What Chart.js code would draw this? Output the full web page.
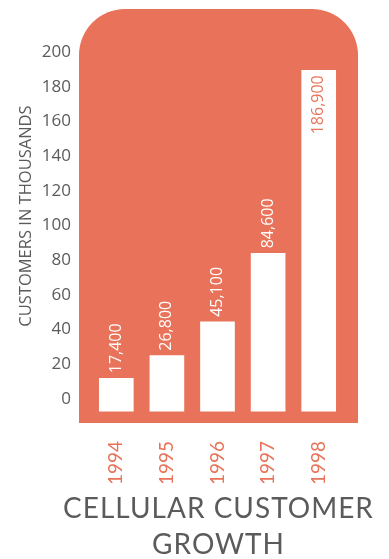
<!DOCTYPE html>
<html>
<head>
<meta charset="utf-8">
<script src="https://cdn.jsdelivr.net/npm/chart.js@4"></script>
<style>
  html, body { margin: 0; padding: 0; background: #fff; }
  #wrap { width: 389px; height: 559px; }
</style>
</head>
<body>
<div id="wrap"><canvas id="growthChart"></canvas></div>
<script>
const years = ['1994', '1995', '1996', '1997', '1998'];
// bar tops as drawn (thousands) and the printed labels
const barTops = [12, 25, 44.5, 84, 189.5];
const barBase = -7;
const valueLabels = ['17,400', '26,800', '45,100', '84,600', '186,900'];
const yTicks = [0, 20, 40, 60, 80, 100, 120, 140, 160, 180, 200];
const titleLines = ['CELLULAR CUSTOMER', 'GROWTH'];

const orange = '#e8735a';
const grey = '#5b5b5b';

// rounded orange panel behind the bars
const panelPlugin = {
  id: 'panel',
  beforeDraw(chart) {
    const { ctx, chartArea: a } = chart;
    const l = a.left - 12, r = a.right + 14, t = a.top, b = a.bottom, rad = 46;
    ctx.save();
    ctx.fillStyle = orange;
    ctx.beginPath();
    ctx.moveTo(l, b);
    ctx.lineTo(l, t + rad);
    ctx.arcTo(l, t, l + rad, t, rad);
    ctx.lineTo(r - rad, t);
    ctx.arcTo(r, t, r, t + rad, rad);
    ctx.lineTo(r, b);
    ctx.closePath();
    ctx.fill();
    ctx.restore();
  }
};

// rotated value labels on each bar
const valuePlugin = {
  id: 'values',
  afterDatasetsDraw(chart) {
    const { ctx } = chart;
    const meta = chart.getDatasetMeta(0);
    ctx.save();
    ctx.font = '16px "Open Sans"';
    ctx.textBaseline = 'middle';
    meta.data.forEach((bar, i) => {
      ctx.save();
      ctx.translate(bar.x, bar.y);
      ctx.rotate(-Math.PI / 2);
      if (i === meta.data.length - 1) {
        ctx.fillStyle = orange;
        ctx.textAlign = 'right';
        ctx.fillText(valueLabels[i], -5, 0);
      } else {
        ctx.fillStyle = '#fff';
        ctx.textAlign = 'left';
        ctx.fillText(valueLabels[i], 5, 0);
      }
      ctx.restore();
    });
    ctx.restore();
  }
};

// big title under the chart
const titlePlugin = {
  id: 'bigTitle',
  afterDraw(chart) {
    const { ctx, chartArea: a } = chart;
    const cx = (a.left + a.right) / 2;
    ctx.save();
    ctx.fillStyle = grey;
    ctx.font = '28px Lato';
    ctx.letterSpacing = '1px';
    ctx.textAlign = 'center';
    ctx.textBaseline = 'middle';
    ctx.fillText(titleLines[0], cx + 1, a.bottom + 86);
    ctx.fillText(titleLines[1], cx + 1, a.bottom + 122);
    ctx.restore();
  }
};

new Chart(document.getElementById('growthChart'), {
  type: 'bar',
  data: {
    labels: years,
    datasets: [{
      data: barTops.map(v => [barBase, v]),
      backgroundColor: '#ffffff',
      barThickness: 34
    }]
  },
  options: {
    responsive: true,
    maintainAspectRatio: false,
    animation: false,
    layout: { padding: { top: 9, right: 45, bottom: 76, left: 0 } },
    plugins: {
      legend: { display: false },
      tooltip: { enabled: false }
    },
    scales: {
      x: {
        grid: { display: false },
        border: { display: false },
        ticks: {
          color: orange,
          font: { family: 'Lato', size: 19 },
          minRotation: 90,
          maxRotation: 90,
          padding: 10
        },
        afterFit(scale) { scale.height = 60; }
      },
      y: {
        min: -13.8,
        max: 224.8,
        grid: { display: false },
        border: { display: false },
        afterBuildTicks(scale) { scale.ticks = yTicks.map(v => ({ value: v })); },
        afterFit(scale) {
          scale.width = 91;
          scale.paddingTop = 0;
          scale.paddingBottom = 0;
        },
        ticks: {
          color: grey,
          font: { family: 'Open Sans', size: 17 },
          padding: 12
        },
        title: {
          display: true,
          text: 'CUSTOMERS IN THOUSANDS',
          color: grey,
          font: { family: 'Open Sans', size: 16.5 },
          padding: { top: 16, bottom: 0 }
        }
      }
    }
  },
  plugins: [panelPlugin, valuePlugin, titlePlugin]
});
</script>
</body>
</html>
